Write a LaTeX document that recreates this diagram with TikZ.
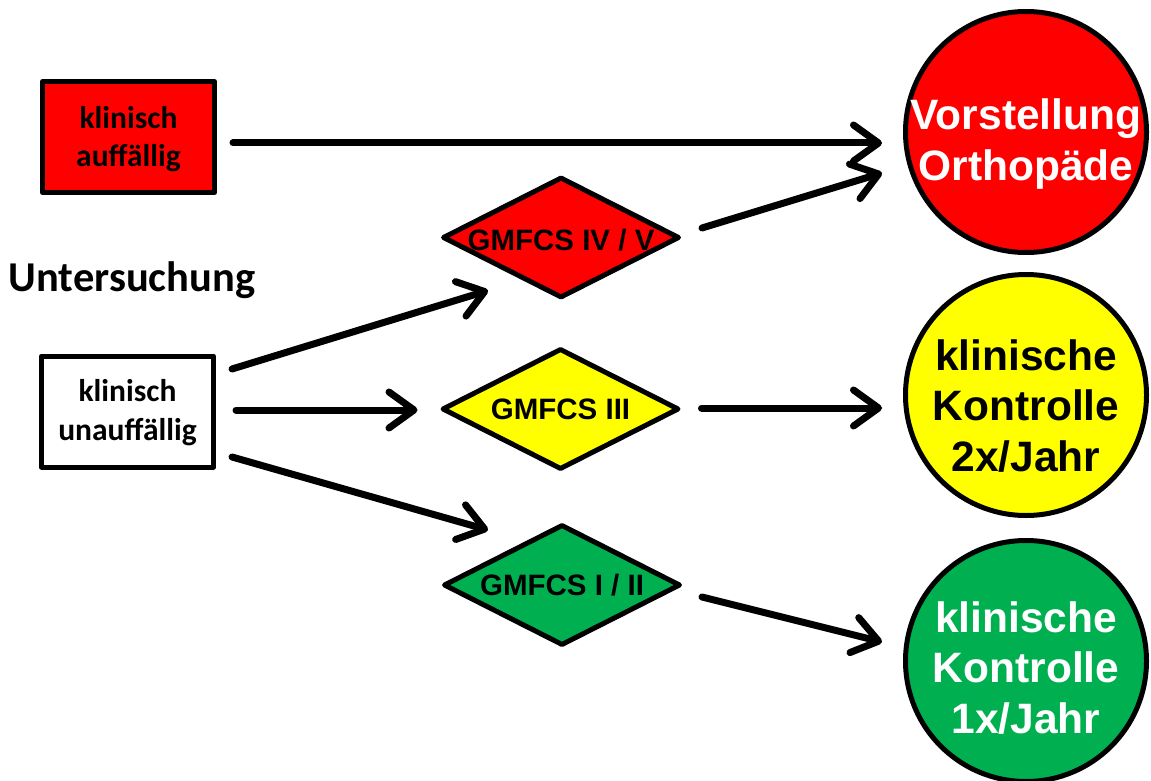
\documentclass[tikz,border=0pt]{standalone}
\usepackage{fontspec}
\newfontfamily\carl{Carlito}
\newfontfamily\arialf{Liberation Sans}
\usetikzlibrary{arrows.meta,shapes.geometric,calc}
\definecolor{cred}{HTML}{FF0000}
\definecolor{cyel}{HTML}{FFFF00}
\definecolor{cgrn}{HTML}{00B050}
\newcommand{\lowertext}[2]{\raisebox{-#1}[\height][\depth]{\begin{tabular}{@{}c@{}}#2\end{tabular}}}
\begin{document}
\begin{tikzpicture}[x=1pt,y=-1pt,
  boxnode/.style={draw=black,line width=5pt,line join=round,minimum width=172pt,minimum height=111pt,inner sep=0pt,align=center,
    font=\carl\bfseries\fontsize{31.5}{38.5}\selectfont},
  dianode/.style={diamond,draw=black,line width=5pt,line join=round,aspect=1.95,minimum width=237pt,minimum height=121pt,inner sep=0pt,
    font=\arialf\bfseries\fontsize{29.5}{32}\selectfont},
  circnode/.style={circle,draw=black,line width=5pt,minimum size=241pt,inner sep=0pt},
  circtext/.style={align=center,inner sep=0pt,font=\arialf\bfseries\fontsize{42.5}{50.5}\selectfont},
  arr/.style={line width=7pt,line cap=round,line join=round,-{Straight Barb[length=25pt,width=36pt,line cap=round,line join=round]}}
]
\useasboundingbox[fill=white] (0,0) rectangle (1151,781);

\node[boxnode,fill=cred] (b1) at (128.5,137) {\lowertext{3pt}{klinisch\\auffällig}};
\node[boxnode,fill=white] (b2) at (127.5,411.5) {\lowertext{2pt}{klinisch\\unauffällig}};
\node[font=\carl\bfseries\fontsize{42.5}{48}\selectfont] (t1) at (132,280) {Untersuchung};

\node[dianode,fill=cred] (d1) at (561,237.5) {\raisebox{-3pt}[\height][\depth]{GMFCS IV / V}};
\node[dianode,fill=cyel] (d2) at (560.5,409) {GMFCS III};
\node[dianode,fill=cgrn] (d3) at (562,585) {GMFCS I / II};

\node[circnode,fill=cred,label={[circtext,text=white,yshift=-12pt]center:Vorstellung\\Orthopäde}] (c1) at (1026,132) {};
\node[circnode,fill=cyel,label={[circtext,text=black,yshift=-11pt]center:klinische\\Kontrolle\\2x/Jahr}] (c2) at (1026,395) {};
\node[circnode,fill=cgrn,label={[circtext,text=white,yshift=-7pt]center:klinische\\Kontrolle\\1x/Jahr}] (c3) at (1026,661) {};

\draw[arr] ($(b1.east)+(16,6)$) -- ($(c1.west)+(-21,11)$);
\draw[arr] ($(d1.east)+(20,-9.5)$) -- ($(c1.west)+(-21,41)$);
\draw[arr] ($(b2.east)+(16,-42.5)$) -- ($(d1.south)+(-73,-10)$);
\draw[arr] ($(b2.east)+(20,-1.5)$) -- ($(d2.west)+(-22,1)$);
\draw[arr] ($(b2.east)+(16,45.5)$) -- ($(d3.north)+(-74,8)$);
\draw[arr] ($(d2.east)+(20,-1)$) -- ($(c2.west)+(-21,13)$);
\draw[arr] ($(d3.east)+(19,12)$) -- ($(c3.west)+(-21,-19)$);
\end{tikzpicture}
\end{document}
